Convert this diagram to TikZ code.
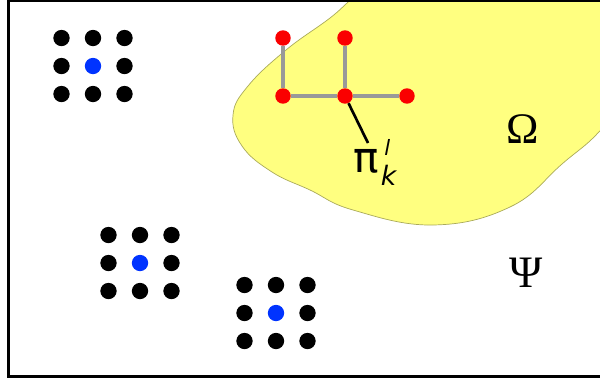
\documentclass[tikz,border=0pt]{standalone}
\usepackage{fontspec}
\newfontfamily\dejavu[ItalicFont={DejaVu Sans Oblique}]{DejaVu Sans}
\newfontfamily\libserif{Liberation Serif}
\usetikzlibrary{positioning}
\definecolor{Blob}{RGB}{255,255,128}
\definecolor{BlobLine}{RGB}{170,170,90}
\definecolor{Centre}{RGB}{0,51,255}
\definecolor{RedNode}{RGB}{250,0,0}
\definecolor{Edge}{RGB}{153,153,153}

\begin{document}
\begin{tikzpicture}[x=0.025cm,y=-0.025cm,
 dt/.style={circle,fill=black,inner sep=0,minimum size=11.6pt},
 ct/.style={dt,fill=Centre},
 rn/.style={circle,fill=RedNode,inner sep=0,minimum size=11pt},
 ge/.style={draw=Edge,line width=2.5pt},
 pl/.style={draw=black,line width=1.9pt},
 gk/.style={inner sep=0,font=\libserif\fontsize{31}{31}\selectfont}]
\useasboundingbox (0,0) rectangle (600,378);
\clip (0,0) rectangle (600,378);
% region Omega
\filldraw[fill=Blob,draw=BlobLine,line width=.5pt] plot[smooth cycle,tension=.7] coordinates
 {(364,-10) (330,18) (286,50) (248,86) (233,115) (242,146) (272,172) (310,190) (353,210)
  (433,225) (510,207) (562,164) (606,124) (660,50) (650,-40) (420,-40)};
% frame
\draw[line width=2pt] (8.5,0.5) rectangle (640,376.5);
% dot groups
\foreach \gx/\gy/\n in {93/66/a,140/263/b,276/313/c}{
 \foreach \i/\j in {-1/-1,0/-1,1/-1,-1/0,1/0,-1/1,0/1,1/1}
  \node[dt] (\n\i\j) at ({\gx+31.5*\i},{\gy+28*\j}) {};
 \node[ct] (\n) at (\gx,\gy) {};
}
% tree
\node[rn] (r1) at (283,38) {};
\node[rn] (r2) at (345,38) {};
\node[rn] (r3) at (283,96) {};
\node[rn] (r4) at (345,96) {};
\node[rn] (r5) at (407,96) {};
\draw[ge] (r1)--(r3);
\draw[ge] (r2)--(r4);
\draw[ge] (r3)--(r4);
\draw[ge] (r4)--(r5);
\node[anchor=base west,inner sep=0,font=\dejavu\fontsize{30}{30}\selectfont] (pk) at (353,172)
 {π\hspace{1.5pt}\rlap{\hspace{2.5pt}\raisebox{11.5pt}{\fontsize{15}{15}\selectfont\itshape l}}\raisebox{-9.5pt}{\fontsize{19}{19}\selectfont\itshape k}};
\coordinate (tip) at (368,143);
\draw[pl] (r4)--(tip);
\node[gk] (om) at (523,129) {Ω};
\node[gk,font=\libserif\fontsize{32}{32}\selectfont] (ps) at (526,273) {Ψ};
\end{tikzpicture}
\end{document}
